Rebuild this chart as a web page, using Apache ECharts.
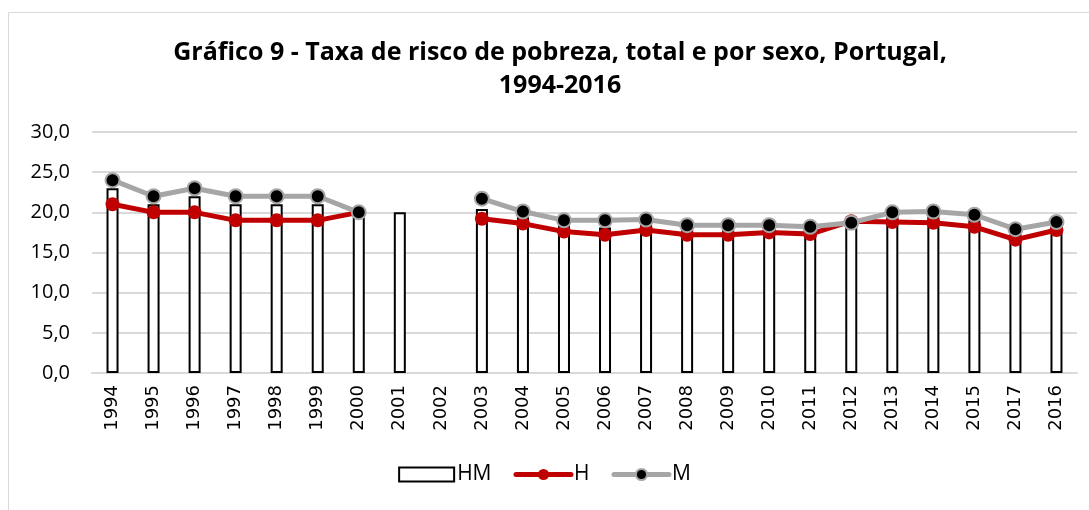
<!DOCTYPE html>
<html>
<head>
<meta charset="utf-8">
<script src="https://cdn.jsdelivr.net/npm/echarts@6/dist/echarts.min.js"></script>
<style>
  html, body { margin: 0; padding: 0; background: #fff; }
  #chart { width: 1089px; height: 510px; }
</style>
</head>
<body>
<div id="chart"></div>
<script>
const years = ['1994', '1995', '1996', '1997', '1998', '1999', '2000', '2001', '2002', '2003',
  '2004', '2005', '2006', '2007', '2008', '2009', '2010', '2011', '2012', '2013', '2014', '2015', '2017', '2016']
const hm = [23.0, 21.0, 22.0, 21.0, 21.0, 21.0, 20.0, 20.0, null, 20.4,
  19.4, 18.5, 18.1, 18.5, 17.9, 17.9, 18.0, 17.9, 18.7, 19.5, 19.5, 19.0, 17.3, 18.3]
const h = [21.0, 20.0, 20.0, 19.0, 19.0, 19.0, 20.0, null, null, 19.2,
  18.6, 17.6, 17.2, 17.8, 17.2, 17.2, 17.5, 17.3, 18.9, 18.8, 18.7, 18.2, 16.6, 17.8]
const m = [24.0, 22.0, 23.0, 22.0, 22.0, 22.0, 20.0, null, null, 21.7,
  20.1, 19.0, 19.0, 19.1, 18.4, 18.4, 18.4, 18.2, 18.7, 20.0, 20.1, 19.7, 17.9, 18.8]

const chart = echarts.init(document.getElementById('chart'))

const fontMain = '"Open Sans", "Noto Sans", sans-serif'

chart.setOption({
  animation: false,
  graphic: [{
    type: 'rect',
    shape: { x: 8.5, y: 12.5, width: 1200, height: 600 },
    style: { fill: 'none', stroke: '#d9d9d9', lineWidth: 1 },
    silent: true
  }],
  title: {
    text: 'Gráfico 9 - Taxa de risco de pobreza, total e por sexo, Portugal,\n1994-2016',
    left: 555,
    top: 31,
    textAlign: 'center',
    textStyle: {
      fontFamily: fontMain,
      fontWeight: 'bold',
      fontSize: 25,
      lineHeight: 33,
      color: '#000'
    }
  },
  legend: {
    bottom: 20,
    left: 'center',
    itemWidth: 55,
    itemHeight: 14,
    itemGap: 22,
    lineStyle: { width: 5, cap: 'round' },
    textStyle: { fontFamily: fontMain, fontSize: 21, color: '#000', padding: [0, 0, 0, -2] },
    data: [{ name: 'HM', icon: 'rect' }, 'H', 'M']
  },
  grid: {
    left: 92,
    right: 12,
    top: 132,
    bottom: 137
  },
  xAxis: {
    type: 'category',
    data: years,
    axisLine: { lineStyle: { color: '#d9d9d9', width: 2 } },
    axisTick: { show: false },
    axisLabel: {
      rotate: 90,
      interval: 0,
      margin: 12,
      fontFamily: 'DejaVu Sans',
      fontSize: 18,
      color: '#000'
    }
  },
  yAxis: {
    type: 'value',
    min: 0,
    max: 30,
    interval: 5,
    axisLine: { show: false },
    axisTick: { show: false },
    splitLine: { lineStyle: { color: '#d9d9d9', width: 2 } },
    axisLabel: {
      margin: 22,
      fontFamily: fontMain,
      fontSize: 20,
      color: '#000',
      formatter: v => v.toFixed(1).replace('.', ',')
    }
  },
  series: [
    {
      name: 'HM',
      type: 'bar',
      data: hm,
      barWidth: 12,
      itemStyle: { color: '#fff', borderColor: '#000', borderWidth: 2 }
    },
    {
      name: 'H',
      type: 'line',
      data: h,
      symbol: 'circle',
      symbolSize: 14,
      lineStyle: { color: '#c00000', width: 5 },
      itemStyle: { color: '#c00000', borderColor: '#c00000', borderWidth: 0 }
    },
    {
      name: 'M',
      type: 'line',
      data: m,
      symbol: 'circle',
      symbolSize: 14,
      lineStyle: { color: '#a6a6a6', width: 5 },
      itemStyle: { color: '#000', borderColor: '#a6a6a6', borderWidth: 2 }
    }
  ]
})

window.addEventListener('resize', () => chart.resize())
</script>
</body>
</html>
